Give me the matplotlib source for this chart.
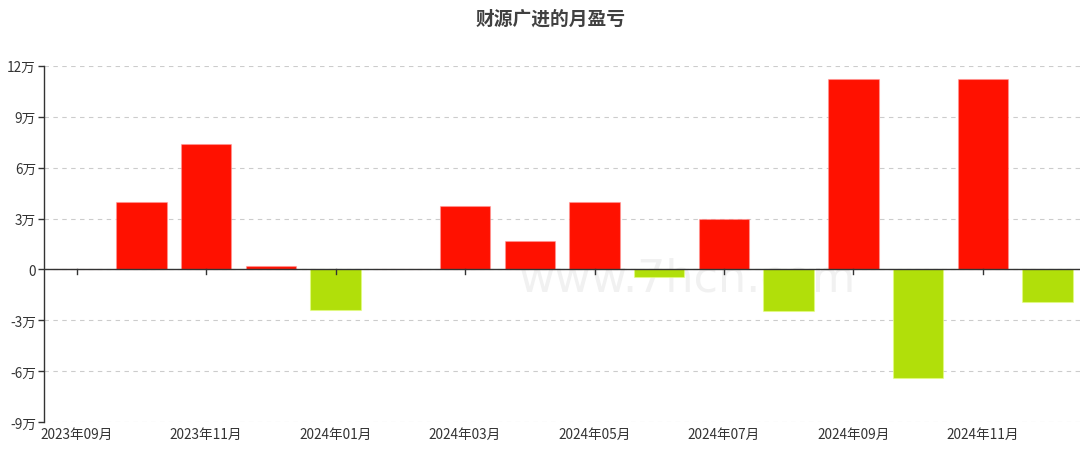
import matplotlib
matplotlib.use("Agg")
import matplotlib.pyplot as plt
import numpy as np

plt.rcParams['font.family'] = ['Noto Sans CJK SC', 'DejaVu Sans']

months = ["2023年09月", "2023年10月", "2023年11月", "2023年12月", "2024年01月",
          "2024年02月", "2024年03月", "2024年04月", "2024年05月", "2024年06月",
          "2024年07月", "2024年08月", "2024年09月", "2024年10月", "2024年11月",
          "2024年12月"]
# monthly profit/loss in 万
values = [0, 3.97, 7.37, 0.2, -2.4, 0, 3.75, 1.67, 3.97, -0.42,
          2.95, -2.42, 11.24, -6.42, 11.2, -1.9]
yticks = [-9, -6, -3, 0, 3, 6, 9, 12]
ytick_labels = ["-9万", "-6万", "-3万", "0", "3万", "6万", "9万", "12万"]

red = "#FF1100"
green = "#B1DF0A"

fig = plt.figure(figsize=(10.91, 4.56), dpi=100)
ax = fig.add_axes([0.0406, 0.0717, 0.9493, 0.782])

x = np.arange(len(months))
colors = [red if v >= 0 else green for v in values]
ax.bar(x, values, width=0.78, color=colors, zorder=3,
       edgecolor=[(1, 0.6, 0.6, 0.5) if v >= 0 else (0.9, 1, 0.5, 0.6) for v in values],
       linewidth=0.8)

ax.set_xlim(-0.5, len(months) - 0.5)
ax.set_ylim(-9, 12)
ax.set_yticks(yticks)
ax.set_yticklabels(ytick_labels)
ax.grid(axis='y', linestyle=(0, (4, 4)), color='#cccccc', linewidth=0.8, zorder=0)

for s in ['top', 'right', 'bottom']:
    ax.spines[s].set_visible(False)
ax.spines['left'].set_color('#333333')
ax.spines['left'].set_linewidth(1.0)

# zero axis line
ax.axhline(0, color='#333333', linewidth=1.0, zorder=4)
label_idx = x[::2]
for i in label_idx:
    ax.plot([i, i], [0, -0.25], color='#333333', linewidth=1.0, zorder=4, clip_on=False)

ax.set_xticks(label_idx)
ax.set_xticklabels([months[i] for i in label_idx])
ax.tick_params(axis='x', length=0, pad=3, labelsize=9.8, labelcolor='#333333')
ax.tick_params(axis='y', length=4, width=1.0, color='#333333', pad=2,
               labelsize=9.8, labelcolor='#333333')

# watermark
ax.text(0.62, -0.5, "www.7hcn.com", transform=ax.get_yaxis_transform(),
        fontsize=32, color='#f1f1f1', ha='center', va='center', zorder=1,
        family='DejaVu Sans')

fig.text(0.505, 0.958, "财源广进的月盈亏", ha='center', va='center',
         fontsize=13.5, fontweight='bold', color='#404040')

fig.savefig("out.png", dpi=100)
